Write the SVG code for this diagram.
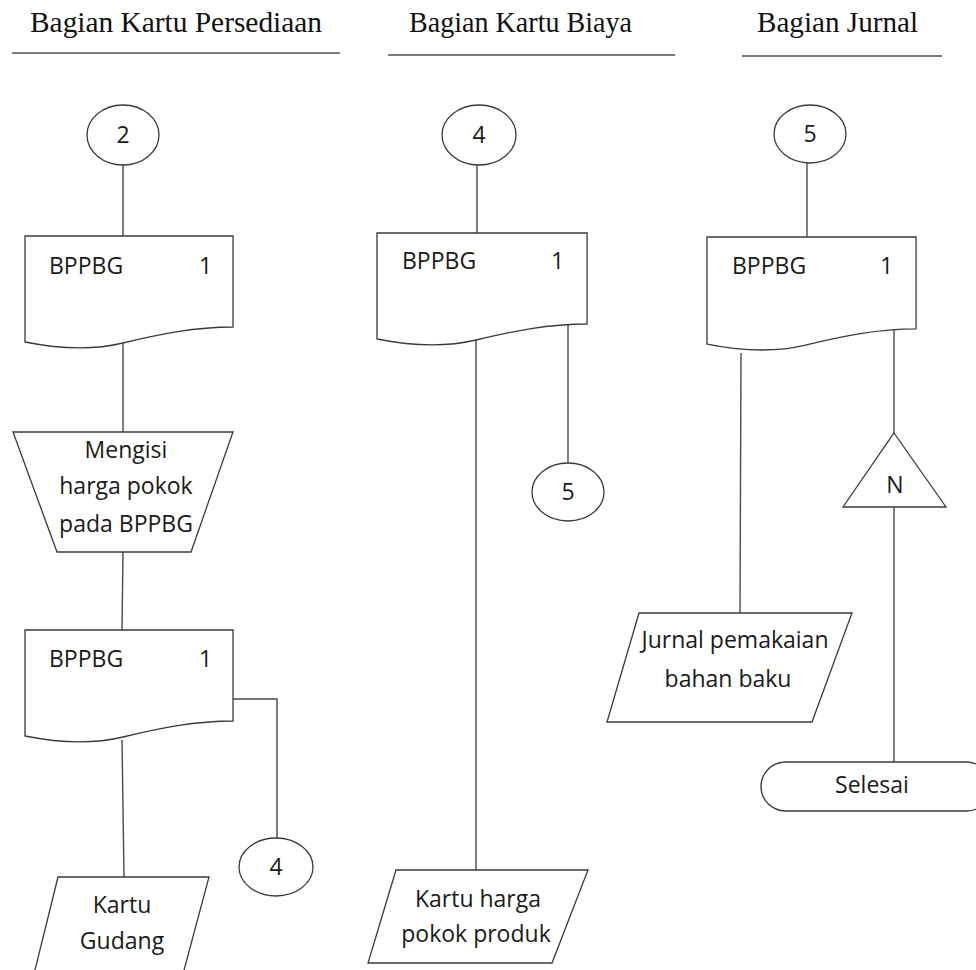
<svg xmlns="http://www.w3.org/2000/svg" xmlns:xlink="http://www.w3.org/1999/xlink" width="976" height="970" viewBox="0 0 976 970">
  <style>
    .shape { fill: #ffffff; stroke: #3a3a3a; stroke-width: 1.3; }
    .wire { fill: none; stroke: #4a4a4a; stroke-width: 1.4; }
    .rule { stroke: #7a7a7a; stroke-width: 2; }
    .head { font-family: "Liberation Serif", "Times New Roman", serif; font-size: 30px; fill: #111; }
    .lbl { font-family: "Open Sans", "Noto Sans", sans-serif; font-size: 23px; fill: #1a1a1a; }
    .mid { text-anchor: middle; }
  </style>
  <defs>
    <!-- document symbol, 208 wide, wavy bottom edge -->
    <path id="doc" d="M0,0 H208 V91 C170,91 135,98 98,107 C65,115 30,112 0,106 Z"/>
  </defs>

  <rect width="976" height="970" fill="#ffffff"/>

  <!-- swimlane headers -->
  <g id="headers">
    <text class="head" x="30" y="32" textLength="292" lengthAdjust="spacingAndGlyphs">Bagian Kartu Persediaan</text>
    <line class="rule" x1="12" y1="53" x2="340" y2="53"/>
    <text class="head" x="409" y="32" textLength="223" lengthAdjust="spacingAndGlyphs">Bagian Kartu Biaya</text>
    <line class="rule" x1="388" y1="55" x2="675" y2="55"/>
    <text class="head" x="757" y="32" textLength="161" lengthAdjust="spacingAndGlyphs">Bagian Jurnal</text>
    <line class="rule" x1="742" y1="56" x2="942" y2="56"/>
  </g>

  <!-- connectors -->
  <g id="connectors">
    <line class="wire" x1="123" y1="165" x2="123" y2="236"/>
    <line class="wire" x1="123" y1="343" x2="123" y2="432"/>
    <line class="wire" x1="123" y1="552" x2="122" y2="630"/>
    <polyline class="wire" points="233,699 277,699 277,838"/>
    <line class="wire" x1="122" y1="740" x2="124" y2="877"/>

    <line class="wire" x1="477" y1="165" x2="477" y2="233"/>
    <line class="wire" x1="476" y1="339" x2="476" y2="870"/>
    <line class="wire" x1="568" y1="323" x2="568" y2="463"/>

    <line class="wire" x1="807" y1="163" x2="807" y2="237"/>
    <line class="wire" x1="741" y1="353" x2="740" y2="613"/>
    <line class="wire" x1="894" y1="329" x2="894" y2="433"/>
    <line class="wire" x1="894" y1="507" x2="894" y2="762"/>
  </g>

  <!-- Bagian Kartu Persediaan -->
  <g id="conn-2">
    <ellipse class="shape" cx="123" cy="135" rx="36" ry="30"/>
    <text class="lbl mid" x="123" y="143">2</text>
  </g>
  <g id="doc-bppbg-a">
    <use href="#doc" xlink:href="#doc" class="shape" x="25" y="236"/>
    <text class="lbl" x="49" y="274">BPPBG</text>
    <text class="lbl" x="199" y="274">1</text>
  </g>
  <g id="manual-isi-harga">
    <polygon class="shape" points="13,432 233,432 191,552 57,552"/>
    <text class="lbl mid" x="126" y="458">Mengisi</text>
    <text class="lbl mid" x="126" y="494">harga pokok</text>
    <text class="lbl mid" x="126" y="532">pada BPPBG</text>
  </g>
  <g id="doc-bppbg-b">
    <use href="#doc" xlink:href="#doc" class="shape" x="25" y="630"/>
    <text class="lbl" x="49" y="667">BPPBG</text>
    <text class="lbl" x="199" y="667">1</text>
  </g>
  <g id="conn-4-out">
    <ellipse class="shape" cx="276" cy="867" rx="37" ry="29"/>
    <text class="lbl mid" x="276" y="875">4</text>
  </g>
  <g id="kartu-gudang">
    <polygon class="shape" points="58,877 209,877 183,974 34,974"/>
    <text class="lbl mid" x="122" y="913">Kartu</text>
    <text class="lbl mid" x="122" y="949">Gudang</text>
  </g>

  <!-- Bagian Kartu Biaya -->
  <g id="conn-4-in">
    <ellipse class="shape" cx="479" cy="135" rx="37" ry="30"/>
    <text class="lbl mid" x="479" y="143">4</text>
  </g>
  <g id="doc-bppbg-c">
    <use href="#doc" xlink:href="#doc" class="shape" transform="translate(377,233) scale(1.01,1)"/>
    <text class="lbl" x="402" y="269">BPPBG</text>
    <text class="lbl" x="551" y="269">1</text>
  </g>
  <g id="conn-5-out">
    <ellipse class="shape" cx="568" cy="492" rx="36" ry="29"/>
    <text class="lbl mid" x="568" y="500">5</text>
  </g>
  <g id="kartu-harga-pokok">
    <polygon class="shape" points="396,870 588,870 552,963 368,963"/>
    <text class="lbl mid" x="478" y="907">Kartu harga</text>
    <text class="lbl mid" x="476" y="942">pokok produk</text>
  </g>

  <!-- Bagian Jurnal -->
  <g id="conn-5-in">
    <ellipse class="shape" cx="810" cy="134" rx="36" ry="29"/>
    <text class="lbl mid" x="810" y="142">5</text>
  </g>
  <g id="doc-bppbg-d">
    <use href="#doc" xlink:href="#doc" class="shape" transform="translate(707,237) scale(1.005,1.01)"/>
    <text class="lbl" x="732" y="274">BPPBG</text>
    <text class="lbl" x="880" y="274">1</text>
  </g>
  <g id="arsip-n">
    <polygon class="shape" points="894,433 946,507 843,507"/>
    <text class="lbl mid" x="895" y="493">N</text>
  </g>
  <g id="jurnal-pemakaian">
    <polygon class="shape" points="639,613 852,613 812,722 607,722"/>
    <text class="lbl mid" x="735" y="648">Jurnal pemakaian</text>
    <text class="lbl mid" x="728" y="687">bahan baku</text>
  </g>
  <g id="selesai">
    <rect class="shape" x="761" y="762" width="230" height="49" rx="24.5" ry="24.5"/>
    <text class="lbl mid" x="872" y="793">Selesai</text>
  </g>
</svg>
